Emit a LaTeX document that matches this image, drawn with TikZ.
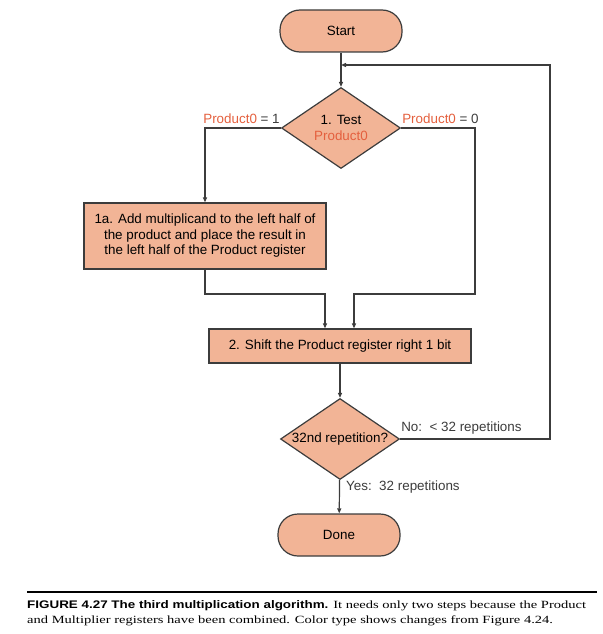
\documentclass[tikz,border=0pt]{standalone}
\usepackage{fontspec}
\setmainfont{Liberation Serif}
\setsansfont{Liberation Sans}
\newfontfamily\capserif[FakeStretch=1.32]{Liberation Serif}
\newfontfamily\capsans[FakeStretch=1.22]{Liberation Sans}
\usepackage{xcolor}
\usetikzlibrary{shapes.geometric,arrows.meta}
\definecolor{boxfill}{RGB}{242,180,150}
\definecolor{labred}{RGB}{228,96,62}
\definecolor{lines}{RGB}{60,60,60}
\begin{document}
\begin{tikzpicture}[x=1pt,y=-1pt,
    font=\sffamily\fontsize{13.4}{15.5}\selectfont,
    flow/.style={draw=lines,line width=1.2pt},
    >={Triangle[length=5pt,width=4pt]},
    term/.style={draw=lines,line width=1.2pt,fill=boxfill,rounded corners=20pt,minimum width=122pt,minimum height=42pt},
    stepbox/.style={draw=lines,line width=1.2pt,fill=boxfill,inner sep=0pt},
    test/.style={draw=lines,line width=1.2pt,fill=boxfill,diamond,inner sep=0pt,minimum width=119pt,minimum height=81pt},
    lab/.style={inner sep=1pt,text=lines}]
\useasboundingbox (0,0) rectangle (602,634);
\node[term] (start) at (341,31) {Start};
\node[test,align=center] (tst) at (341,128) {1. Test\\[1pt]\textcolor{labred}{Product0}};
\node[stepbox,minimum width=242pt,minimum height=66pt,align=center] (add) at (205,236)
    {1a. Add multiplicand to the left half of\\the product and place the result in\\the left half of the Product register};
\node[stepbox,minimum width=262pt,minimum height=34pt] (shift) at (340,346) {2. Shift the Product register right 1 bit};
\node[test,label={[inner sep=0pt]center:32nd repetition?}] (rep) at (340,439) {};
\node[term] (done) at (339,535) {Done};
% labels
\node[lab,anchor=south east] (l1) at ([yshift=3pt]tst.west) {\textcolor{labred}{Product0} = 1};
\node[lab,anchor=south west] (l0) at ([yshift=3pt]tst.east) {\textcolor{labred}{Product0} = 0};
\node[lab,anchor=south west] (lno) at ([yshift=4pt]rep.east) {No:\ \ < 32 repetitions};
\node[lab,anchor=west] (lyes) at (345,487) {Yes:\ \ 32 repetitions};
% connectors
\coordinate (loop) at (550,65);
\coordinate (join) at (start.south |- loop);
\coordinate (r0) at (475,294);
\coordinate (a0) at (add.south |- r0);
\draw[flow,->] (start) -- (tst);
\draw[flow,->] (tst.west) -| (add.north);
\draw[flow,->] (add.south) -- (a0) -| ([xshift=-15pt]shift.north);
\draw[flow,->] (tst.east) -| (r0) -| ([xshift=14pt]shift.north);
\draw[flow,->] (shift) -- (rep);
\draw[flow,->] (rep.east) -| (loop) -- (join);
\draw[flow,->] (rep) -- (done);
% caption
\draw[line width=1.4pt,draw=black] (27,592) -- (597,592);
\node[anchor=base west,inner sep=0pt,text=black,font=\capserif\fontsize{11}{15}\selectfont] (cap1) at (27,608)
    {{\capsans\bfseries FIGURE 4.27 The third multiplication algorithm.} It needs only two steps because the Product};
\node[anchor=base west,inner sep=0pt,text=black,font=\capserif\fontsize{11}{15}\selectfont] (cap2) at (27,623)
    {and Multiplier registers have been combined. Color type shows changes from Figure 4.24.};
\end{tikzpicture}
\end{document}
